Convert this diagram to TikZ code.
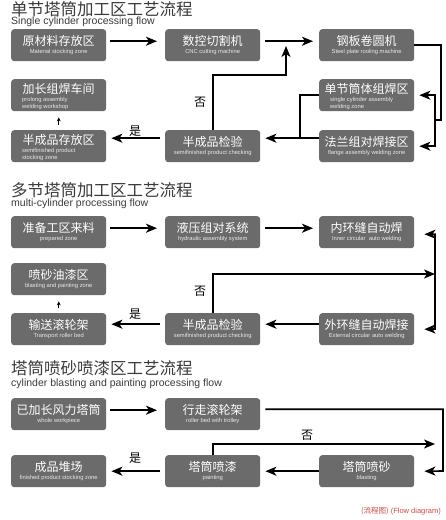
\documentclass[tikz,border=0pt]{standalone}
\usepackage{fontspec}
\setmainfont{Liberation Sans}
\newfontfamily\cjk{Noto Sans CJK SC}
\usetikzlibrary{arrows.meta}
\definecolor{boxgray}{HTML}{6B6B6B}
\definecolor{titlegray}{HTML}{3A3A3A}
\definecolor{footred}{HTML}{D04848}
\newcommand\procnode[5]{%
  \node[boxst, anchor=north west] (#1) at (#2,#3) {};
  \node[cnst] (#1c) at ([yshift=-12pt]#1.north) {#4};
  \node[enst] (#1e) at ([yshift=-23pt]#1.north) {#5};
}
\newcommand\procnodeb[5]{%
  \node[boxst, anchor=north west] (#1) at (#2,#3) {};
  \node[cnst] (#1c) at ([yshift=-9.5pt]#1.north) {#4};
  \node[enst, anchor=west] (#1e) at ([xshift=11pt,yshift=-24.5pt]#1.north west) {#5};
}
\begin{document}
\begin{tikzpicture}[x=1pt,y=-1pt,
  boxst/.style={fill=boxgray, rounded corners=3pt, minimum width=95pt, minimum height=32pt, inner sep=0pt},
  cnst/.style={text=white, font=\cjk\fontsize{12}{12}\selectfont, inner sep=0pt},
  enst/.style={text=white!85!boxgray, font=\fontsize{5.8}{6.8}\selectfont, inner sep=0pt, align=left},
  titlest/.style={text=titlegray, font=\cjk\fontsize{16.5}{16.5}\selectfont, inner sep=0pt, anchor=base west, text height=13pt, text depth=0pt},
  subst/.style={text=titlegray, font=\fontsize{10.5}{12}\selectfont, inner sep=0pt, anchor=base west, text height=7pt, text depth=2pt},
  lbl/.style={font=\cjk\fontsize{12}{12}\selectfont, inner sep=0pt},
  arr/.style={line width=1.6pt, -{Stealth[length=11pt,width=9pt,inset=3pt]}},
  arrboth/.style={line width=1.6pt, {Stealth[length=11pt,width=9pt,inset=3pt]}-{Stealth[length=11pt,width=9pt,inset=3pt]}},
  conn/.style={line width=1.6pt},
  smallarr/.style={line width=0.8pt, -{Stealth[length=4pt,width=4pt]}}
]
\useasboundingbox (0,0) rectangle (445,520);

% ===== Section 1 =====
\node[titlest] (t1) at (11,15.5) {单节塔筒加工区工艺流程};
\node[subst] (s1) at (11,24.5) {Single cylinder processing flow};

\procnode{A1}{11}{29}{原材料存放区}{Material stocking zone}
\procnode{A2}{165}{29}{数控切割机}{CNC cutting machine}
\procnode{A3}{319}{29}{钢板卷圆机}{Steel plate rooling machine}
\procnodeb{A4}{11}{79}{加长组焊车间}{prolong assembly\\ welding workshop}
\procnodeb{A5}{319}{79}{单节筒体组焊区}{single cylinder assembly\\welding zone}
\procnodeb{A6}{11}{130}{半成品存放区}{semifinished product\\stocking zone}
\procnode{A7}{165}{130}{半成品检验}{semifinished product checking}
\procnode{A8}{319}{130}{法兰组对焊接区}{flange assembly welding zone}

\draw[arr, shorten <=4pt, shorten >=8pt] ([yshift=4pt]A1.east) -- ([yshift=4pt]A2.west);
\draw[arr, shorten <=5pt, shorten >=6pt] ([yshift=4pt]A2.east) -- ([yshift=4pt]A3.west);
\coordinate (r1) at (441,120);
\coordinate (j1) at (435,120);
\draw[conn] (A3.east) -| (r1) -- (j1);
\draw[arr] (j1) |- ([xshift=5pt]A5.east);
\draw[arr] (j1) |- ([xshift=5pt]A8.east);
\coordinate (j2) at (300,138);
\draw[conn] (A5.west) -| (j2);
\draw[arr, shorten >=5pt] ([yshift=8pt]A8.west) -- ([yshift=8pt]A7.east);
\coordinate (n1b) at (286,75);
\coordinate (n1) at (286,46);
\draw[arr] (A7.north) |- (n1b) -- (n1);
\node[lbl] (no1) at (200,102) {否};
\draw[arr, shorten <=5pt] ([yshift=8pt]A7.west) -- ([xshift=5pt,yshift=8pt]A6.east);
\node[lbl] (yes1) at (135,131) {是};
\draw[smallarr, shorten <=5pt, shorten >=6pt] (A6.north) -- (A4.south);

% ===== Section 2 =====
\node[titlest] (t2) at (11,196.5) {多节塔筒加工区工艺流程};
\node[subst] (s2) at (11,206) {multi-cylinder processing flow};

\procnode{B1}{11}{216}{准备工区来料}{prepared zone}
\procnode{B2}{165}{216}{液压组对系统}{hydraulic assembly system}
\procnode{B3}{319}{216}{内环缝自动焊}{Inner circular\ \ auto welding}
\procnode{B4}{11}{263}{喷砂油漆区}{blasting and painting zone}
\procnode{B5}{11}{313}{输送滚轮架}{Transport roller bed}
\procnode{B6}{165}{313}{半成品检验}{semifinished product checking}
\procnode{B7}{319}{313}{外环缝自动焊接}{External circular auto welding}

\draw[arr, shorten <=4pt, shorten >=8pt] ([yshift=4pt]B1.east) -- ([yshift=4pt]B2.west);
\draw[arr, shorten <=5pt, shorten >=6pt] ([yshift=4pt]B2.east) -- ([yshift=4pt]B3.west);
\coordinate (q2) at (435,329);
\draw[arrboth] ([xshift=10pt,yshift=-2pt]B3.east) -| (q2) -- ([xshift=10pt]B7.east);
\coordinate (n2) at (435,274);
\draw[arr] (B6.north) |- (n2);
\node[lbl] (no2) at (200,291) {否};
\draw[arr, shorten >=5pt] ([yshift=5pt]B7.west) -- ([yshift=5pt]B6.east);
\draw[arr, shorten <=5pt] ([yshift=5pt]B6.west) -- ([xshift=5pt,yshift=5pt]B5.east);
\node[lbl] (yes2) at (135,314) {是};
\draw[smallarr, shorten <=5pt, shorten >=6pt] (B5.north) -- (B4.south);

% ===== Section 3 =====
\node[titlest] (t3) at (11,374) {塔筒喷砂喷漆区工艺流程};
\node[subst] (s3) at (11,386) {cylinder blasting and painting processing flow};

\procnode{C1}{11}{398}{已加长风力塔筒}{whole workpiece}
\procnode{C2}{165}{398}{行走滚轮架}{roller bed with trolley}
\procnode{C3}{11}{455}{成品堆场}{finished product stocking zone}
\procnode{C4}{165}{455}{塔筒喷漆}{painting}
\procnode{C5}{319}{455}{塔筒喷砂}{blasting}

\draw[arr, shorten <=4pt, shorten >=8pt] ([yshift=4pt]C1.east) -- ([yshift=4pt]C2.west);
\coordinate (k1) at (443,471);
\draw[arr, shorten <=5pt] ([yshift=5pt]C2.east) -| (k1) -- ([xshift=10pt]C5.east);
\coordinate (n3) at (435,444);
\draw[arr] (C4.north) |- (n3);
\node[lbl] (no3) at (307,435) {否};
\draw[arr, shorten >=5pt] (C5.west) -- (C4.east);
\draw[arr, shorten <=5pt] (C4.west) -- ([xshift=5pt]C3.east);
\node[lbl] (yes3) at (135,458) {是};

% footer
\node[anchor=east, text=footred, font=\fontsize{7.5}{8}\selectfont, inner sep=0pt] (foot) at (441,511) {{\cjk (流程图)} (Flow diagram)};
\end{tikzpicture}
\end{document}
